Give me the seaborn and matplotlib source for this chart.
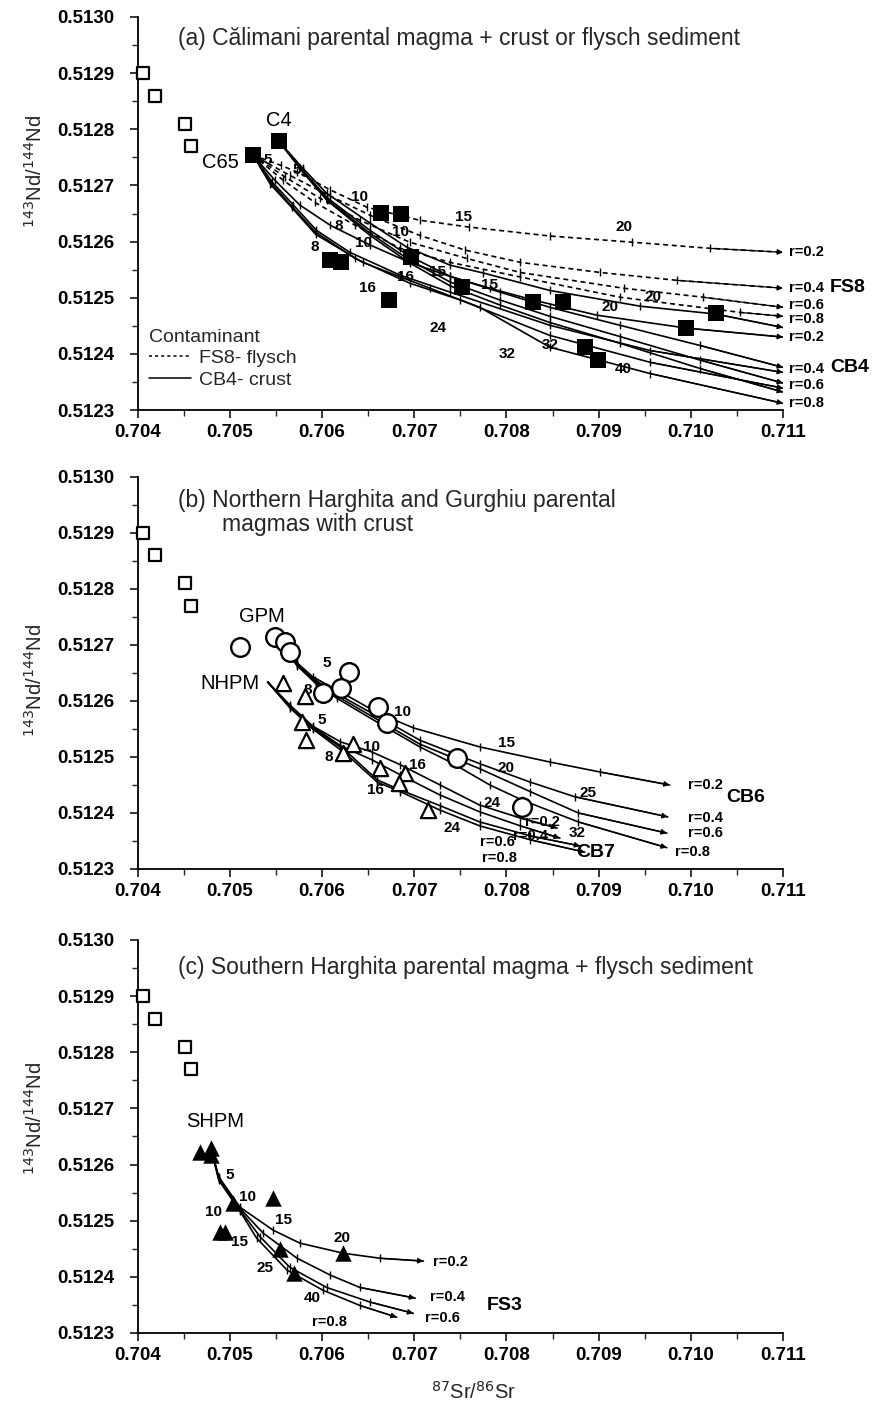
import matplotlib
matplotlib.use("Agg")
import matplotlib.pyplot as plt
from matplotlib.lines import Line2D
from matplotlib.ticker import MultipleLocator, FormatStrFormatter
import seaborn as sns
import pandas as pd

sns.set_theme(style="ticks")
plt.rcParams["font.family"] = ["Liberation Sans", "DejaVu Sans"]

# ---------------- data ----------------
mantle_sr = [0.70406, 0.70419, 0.70451, 0.70458]
mantle_nd = [0.51290, 0.51286, 0.51281, 0.51277]

# panel (a) Calimani samples (filled squares)
cal_sr = [0.70553, 0.70525, 0.70664, 0.70686, 0.70696, 0.70609, 0.70621, 0.70673,
          0.70752, 0.70829, 0.70861, 0.71027, 0.70995, 0.70899, 0.70885]
cal_nd = [0.512779, 0.512754, 0.512651, 0.512649, 0.512573, 0.512567, 0.512564, 0.512496,
          0.512519, 0.512492, 0.512492, 0.512472, 0.512447, 0.512390, 0.512412]

# panel (a) C4 + CB4 crust
c4_r02_sr = [0.70553, 0.70579, 0.70605, 0.70652, 0.70692, 0.70739, 0.70775, 0.70847, 0.70945, 0.71027, 0.71100]
c4_r02_nd = [0.512779, 0.512731, 0.512686, 0.512633, 0.512590, 0.512558, 0.512544, 0.512513, 0.512485, 0.512471, 0.512447]
c4_sr = [0.70553, 0.70579, 0.70605, 0.70652, 0.70695, 0.70739, 0.70793, 0.70847, 0.70923, 0.71010, 0.71100]
c4_r04_nd = [0.512779, 0.512727, 0.512679, 0.512620, 0.512574, 0.512538, 0.512510, 0.512483, 0.512451, 0.512415, 0.512376]
c4_r06_nd = [0.512779, 0.512726, 0.512676, 0.512615, 0.512567, 0.512528, 0.512496, 0.512467, 0.512431, 0.512389, 0.512348]
c4_r08_nd = [0.512779, 0.512724, 0.512674, 0.512611, 0.512562, 0.512521, 0.512487, 0.512456, 0.512419, 0.512374, 0.512332]

# panel (a) C65 + CB4 crust
c65_r02_sr = [0.70525, 0.70549, 0.70576, 0.70609, 0.70652, 0.70695, 0.70739, 0.70782, 0.70829, 0.70898, 0.70995, 0.71100]
c65_r02_nd = [0.512754, 0.512709, 0.512665, 0.512629, 0.512594, 0.512563, 0.512538, 0.512517, 0.512496, 0.512469, 0.512446, 0.512430]
c65_r04_sr = [0.70525, 0.70546, 0.70569, 0.70594, 0.70630, 0.70685, 0.70739, 0.70847, 0.70956, 0.71100]
c65_r04_nd = [0.512754, 0.512706, 0.512665, 0.512620, 0.512581, 0.512540, 0.512510, 0.512451, 0.512406, 0.512367]
c65_r06_sr = [0.70525, 0.70545, 0.70567, 0.70593, 0.70636, 0.70695, 0.70750, 0.70847, 0.70956, 0.71100]
c65_r06_nd = [0.512754, 0.512704, 0.512663, 0.512617, 0.512570, 0.512526, 0.512496, 0.512433, 0.512385, 0.512339]
c65_r08_sr = [0.70525, 0.70544, 0.70567, 0.70593, 0.70644, 0.70717, 0.70771, 0.70847, 0.70956, 0.71100]
c65_r08_nd = [0.512754, 0.512702, 0.512661, 0.512613, 0.512563, 0.512517, 0.512483, 0.512412, 0.512365, 0.512312]

# panel (a) C65 + FS8 flysch (dashed)
fs8_r02_sr = [0.70525, 0.70555, 0.70573, 0.70609, 0.70649, 0.70706, 0.70759, 0.70847, 0.70936, 0.71021, 0.71100]
fs8_r02_nd = [0.512754, 0.512736, 0.512724, 0.512692, 0.512661, 0.512638, 0.512626, 0.512610, 0.512599, 0.512588, 0.512581]
fs8_r04_sr = [0.70525, 0.70565, 0.70609, 0.70652, 0.70706, 0.70755, 0.70815, 0.70902, 0.70985, 0.71100]
fs8_r04_nd = [0.512754, 0.512718, 0.512681, 0.512647, 0.512611, 0.512585, 0.512563, 0.512545, 0.512531, 0.512517]
fs8_r06_sr = [0.70525, 0.70560, 0.70598, 0.70641, 0.70695, 0.70757, 0.70815, 0.70927, 0.71013, 0.71100]
fs8_r06_nd = [0.512754, 0.512715, 0.512677, 0.512638, 0.512599, 0.512570, 0.512545, 0.512517, 0.512501, 0.512483]
fs8_r08_sr = [0.70525, 0.70558, 0.70592, 0.70636, 0.70685, 0.70739, 0.70815, 0.70923, 0.71053, 0.71100]
fs8_r08_nd = [0.512754, 0.512709, 0.512670, 0.512629, 0.512588, 0.512563, 0.512537, 0.512501, 0.512474, 0.512467]

# panel (b) samples
gpm_sr = [0.70549, 0.70560, 0.70565, 0.70511, 0.70629, 0.70621, 0.70601, 0.70661, 0.70670, 0.70746, 0.70817]
gpm_nd = [0.512715, 0.512706, 0.512688, 0.512697, 0.512652, 0.512623, 0.512614, 0.512590, 0.512560, 0.512498, 0.512411]
nhpm_sr = [0.70558, 0.70582, 0.70578, 0.70583, 0.70634, 0.70623, 0.70663, 0.70690, 0.70683, 0.70715]
nhpm_nd = [0.512632, 0.512608, 0.512563, 0.512530, 0.512524, 0.512507, 0.512480, 0.512471, 0.512453, 0.512405]

# panel (b) GPM + CB6
gpm_r02_sr = [0.70549, 0.70573, 0.70590, 0.70616, 0.70660, 0.70699, 0.70771, 0.70847, 0.70902, 0.70977]
gpm_r02_nd = [0.512714, 0.512668, 0.512643, 0.512620, 0.512579, 0.512552, 0.512518, 0.512491, 0.512473, 0.512450]
gpm_r04_sr = [0.70549, 0.70573, 0.70592, 0.70616, 0.70663, 0.70706, 0.70771, 0.70826, 0.70874, 0.70975]
gpm_r04_nd = [0.512714, 0.512666, 0.512638, 0.512613, 0.512570, 0.512530, 0.512488, 0.512455, 0.512429, 0.512393]
gpm_r06_sr = [0.70549, 0.70573, 0.70593, 0.70616, 0.70663, 0.70706, 0.70771, 0.70826, 0.70878, 0.70974]
gpm_r06_nd = [0.512714, 0.512664, 0.512634, 0.512609, 0.512564, 0.512523, 0.512479, 0.512438, 0.512400, 0.512364]
gpm_r08_sr = [0.70549, 0.70573, 0.70594, 0.70616, 0.70663, 0.70706, 0.70739, 0.70782, 0.70817, 0.70878, 0.70974]
gpm_r08_nd = [0.512714, 0.512663, 0.512630, 0.512605, 0.512559, 0.512518, 0.512491, 0.512450, 0.512423, 0.512384, 0.512338]

# panel (b) NHPM + CB7
nh_r02_sr = [0.70541, 0.70565, 0.70590, 0.70620, 0.70654, 0.70685, 0.70728, 0.70771, 0.70815, 0.70855]
nh_r02_nd = [0.512634, 0.512593, 0.512555, 0.512527, 0.512509, 0.512486, 0.512450, 0.512414, 0.512391, 0.512373]
nh_r04_sr = [0.70541, 0.70565, 0.70590, 0.70620, 0.70654, 0.70685, 0.70728, 0.70771, 0.70815, 0.70858]
nh_r04_nd = [0.512634, 0.512591, 0.512554, 0.512520, 0.512495, 0.512468, 0.512432, 0.512402, 0.512377, 0.512355]
nh_r06_sr = [0.70541, 0.70565, 0.70590, 0.70627, 0.70660, 0.70685, 0.70728, 0.70771, 0.70826, 0.70880]
nh_r06_nd = [0.512634, 0.512589, 0.512552, 0.512509, 0.512459, 0.512441, 0.512413, 0.512384, 0.512359, 0.512341]
nh_r08_sr = [0.70541, 0.70565, 0.70590, 0.70627, 0.70660, 0.70685, 0.70728, 0.70771, 0.70826, 0.70885]
nh_r08_nd = [0.512634, 0.512588, 0.512550, 0.512504, 0.512455, 0.512438, 0.512405, 0.512377, 0.512352, 0.512330]

# panel (c) samples
shpm_sr = [0.70468, 0.70480, 0.70480, 0.70503, 0.70547, 0.70489, 0.70495, 0.70554, 0.70623, 0.70570]
shpm_nd = [0.512623, 0.512629, 0.512617, 0.512532, 0.512540, 0.512480, 0.512480, 0.512450, 0.512442, 0.512406]

# panel (c) SHPM + FS3
sh_r02_sr = [0.70480, 0.70488, 0.70511, 0.70547, 0.70576, 0.70623, 0.70663, 0.70710]
sh_r02_nd = [0.512626, 0.512578, 0.512524, 0.512483, 0.512460, 0.512442, 0.512433, 0.512428]
sh_r04_sr = [0.70480, 0.70488, 0.70511, 0.70536, 0.70573, 0.70609, 0.70641, 0.70701]
sh_r04_nd = [0.512626, 0.512576, 0.512522, 0.512478, 0.512433, 0.512403, 0.512381, 0.512362]
sh_r06_sr = [0.70480, 0.70488, 0.70511, 0.70533, 0.70565, 0.70605, 0.70652, 0.70699]
sh_r06_nd = [0.512626, 0.512574, 0.512519, 0.512471, 0.512417, 0.512381, 0.512355, 0.512335]
sh_r08_sr = [0.70480, 0.70488, 0.70511, 0.70529, 0.70562, 0.70601, 0.70641, 0.70681]
sh_r08_nd = [0.512626, 0.512572, 0.512517, 0.512469, 0.512412, 0.512376, 0.512349, 0.512328]

# annotation texts: (text, Sr, Nd)
labels_a = [("C4", 0.70553, 0.512816), ("C65", 0.70490, 0.512740),
            ("5", 0.70541, 0.512745), ("5", 0.70573, 0.512727), ("10", 0.70641, 0.512679),
            ("10", 0.70685, 0.512617), ("8", 0.70618, 0.512627), ("8", 0.70592, 0.512590),
            ("10", 0.70645, 0.512597), ("16", 0.70690, 0.512537), ("16", 0.70649, 0.512517),
            ("15", 0.70725, 0.512545), ("15", 0.70753, 0.512644), ("24", 0.70726, 0.512447),
            ("15", 0.70782, 0.512522), ("20", 0.70927, 0.512626), ("20", 0.70959, 0.512501),
            ("20", 0.70912, 0.512483), ("32", 0.70801, 0.512399), ("32", 0.70847, 0.512415),
            ("40", 0.70927, 0.512374)]
rlabels_a = [("r=0.2", 0.71107, 0.512581), ("r=0.4", 0.71107, 0.512517), ("r=0.6", 0.71107, 0.512487),
             ("r=0.8", 0.71107, 0.512463), ("r=0.2", 0.71107, 0.512431), ("r=0.4", 0.71107, 0.512373),
             ("r=0.6", 0.71107, 0.512344), ("r=0.8", 0.71107, 0.512312)]
endm_a = [("FS8", 0.71151, 0.512519), ("CB4", 0.71151, 0.512376)]

labels_b = [("GPM", 0.70535, 0.512750), ("NHPM", 0.70500, 0.512632),
            ("5", 0.70605, 0.512668), ("10", 0.70687, 0.512580), ("15", 0.70800, 0.512525),
            ("20", 0.70799, 0.512480), ("25", 0.70889, 0.512436), ("24", 0.70784, 0.512418),
            ("32", 0.70877, 0.512364), ("8", 0.70584, 0.512620), ("5", 0.70600, 0.512566),
            ("10", 0.70654, 0.512518), ("8", 0.70607, 0.512500), ("16", 0.70703, 0.512486),
            ("16", 0.70658, 0.512441), ("24", 0.70741, 0.512373)]
rlabels_b = [("r=0.2", 0.70997, 0.512450), ("r=0.4", 0.70997, 0.512391), ("r=0.6", 0.70997, 0.512364),
             ("r=0.8", 0.70983, 0.512330), ("r=0.2", 0.70820, 0.512384), ("r=0.4", 0.70807, 0.512359),
             ("r=0.6", 0.70771, 0.512348), ("r=0.8", 0.70773, 0.512320)]
endm_b = [("CB6", 0.71038, 0.512427), ("CB7", 0.70876, 0.512330)]

labels_c = [("SHPM", 0.70484, 0.512676), ("5", 0.70500, 0.512581), ("10", 0.70519, 0.512542),
            ("10", 0.70482, 0.512515), ("15", 0.70558, 0.512501), ("15", 0.70511, 0.512462),
            ("20", 0.70622, 0.512469), ("25", 0.70538, 0.512415), ("40", 0.70589, 0.512362)]
rlabels_c = [("r=0.8", 0.70589, 0.512319), ("r=0.2", 0.70720, 0.512426), ("r=0.4", 0.70717, 0.512364),
             ("r=0.6", 0.70712, 0.512326)]
endm_c = [("FS3", 0.70779, 0.512349)]

# ---------------- drawing ----------------
fig = plt.figure(figsize=(8.8, 14.15), dpi=100)
L, W = 0.1564, 0.7334
ax_a = fig.add_axes([L, 0.7102, W, 0.2778])
ax_b = fig.add_axes([L, 0.3859, W, 0.2770])
ax_c = fig.add_axes([L, 0.0580, W, 0.2777])


def curve(ax, xs, ys, dashed=False, lw=1.2):
    df = pd.DataFrame({"x": xs, "y": ys})
    sns.lineplot(data=df, x="x", y="y", sort=False, estimator=None, ax=ax, color="black",
                 lw=lw, linestyle=(0, (3, 2.2)) if dashed else "-", legend=False)
    ax.plot(xs[1:-1], ys[1:-1], linestyle="none", marker="|", markersize=6,
            markeredgewidth=1.0, color="black")
    ax.annotate("", xy=(xs[-1], ys[-1]), xytext=(xs[-2], ys[-2]),
                arrowprops=dict(arrowstyle="-|>", color="black", lw=0.9,
                                mutation_scale=8, shrinkA=0, shrinkB=0))


def style(ax):
    ax.set_xlim(0.704, 0.711)
    ax.set_ylim(0.5123, 0.5130)
    ax.xaxis.set_major_locator(MultipleLocator(0.001))
    ax.xaxis.set_minor_locator(MultipleLocator(0.0005))
    ax.yaxis.set_major_locator(MultipleLocator(0.0001))
    ax.yaxis.set_minor_locator(MultipleLocator(0.00005))
    ax.xaxis.set_major_formatter(FormatStrFormatter("%.3f"))
    ax.yaxis.set_major_formatter(FormatStrFormatter("%.4f"))
    ax.tick_params(which="major", direction="out", length=6, width=1.1, labelsize=13.5)
    ax.tick_params(axis="y", which="major", pad=11)
    ax.tick_params(axis="x", which="major", pad=4)
    ax.tick_params(which="minor", direction="out", length=4, width=1.0)
    for lab in ax.get_xticklabels() + ax.get_yticklabels():
        lab.set_fontweight("bold")
    sns.despine(ax=ax)
    for s in ("left", "bottom"):
        ax.spines[s].set_linewidth(1.3)
        ax.spines[s].set_color("black")
    ax.set_xlabel("")
    ax.set_ylabel(r"$^{143}$Nd/$^{144}$Nd", fontsize=14.5)
    ax.tick_params(colors="black")


def put_texts(ax, items, size=11, weight="bold", ha="center"):
    for t, x, y in items:
        ax.text(x, y, t, fontsize=size, fontweight=weight, ha=ha, va="center",
                clip_on=False, color="black")


for ax in (ax_a, ax_b, ax_c):
    sns.scatterplot(x=mantle_sr, y=mantle_nd, ax=ax, marker="s", s=80, facecolor="white",
                    edgecolor="black", linewidth=1.6, clip_on=False, zorder=5)

# panel (a)
for sr, nd in [(fs8_r02_sr, fs8_r02_nd), (fs8_r04_sr, fs8_r04_nd),
               (fs8_r06_sr, fs8_r06_nd), (fs8_r08_sr, fs8_r08_nd)]:
    curve(ax_a, sr, nd, dashed=True)
for sr, nd in [(c4_r02_sr, c4_r02_nd), (c4_sr, c4_r04_nd), (c4_sr, c4_r06_nd), (c4_sr, c4_r08_nd),
               (c65_r02_sr, c65_r02_nd), (c65_r04_sr, c65_r04_nd),
               (c65_r06_sr, c65_r06_nd), (c65_r08_sr, c65_r08_nd)]:
    curve(ax_a, sr, nd)
sns.scatterplot(x=cal_sr, y=cal_nd, ax=ax_a, marker="s", s=135, color="black",
                edgecolor="black", linewidth=0, zorder=6, clip_on=False)
put_texts(ax_a, labels_a[:2], size=14.5, weight="normal")
put_texts(ax_a, labels_a[2:], size=11)
put_texts(ax_a, rlabels_a, size=10.5, ha="left")
put_texts(ax_a, endm_a, size=14, ha="left")
ax_a.text(0.062, 0.945, "(a) C\u0103limani parental magma + crust or flysch sediment",
          transform=ax_a.transAxes, fontsize=16.5, va="center", ha="left")
handles = [Line2D([0], [0], color="black", lw=1.1, linestyle=(0, (2, 2))),
           Line2D([0], [0], color="black", lw=1.1)]
leg = ax_a.legend(handles, ["FS8- flysch", "CB4- crust"], title="Contaminant", loc="lower left",
                  bbox_to_anchor=(0.005, 0.035), frameon=False, fontsize=14, title_fontsize=14,
                  handlelength=2.2, alignment="left", labelspacing=0.2, borderaxespad=0.2,
                  handletextpad=0.4, borderpad=0.2)

# panel (b)
for sr, nd in [(gpm_r02_sr, gpm_r02_nd), (gpm_r04_sr, gpm_r04_nd),
               (gpm_r06_sr, gpm_r06_nd), (gpm_r08_sr, gpm_r08_nd),
               (nh_r02_sr, nh_r02_nd), (nh_r04_sr, nh_r04_nd),
               (nh_r06_sr, nh_r06_nd), (nh_r08_sr, nh_r08_nd)]:
    curve(ax_b, sr, nd)
sns.scatterplot(x=gpm_sr, y=gpm_nd, ax=ax_b, marker="o", s=180, facecolor="white",
                edgecolor="black", linewidth=1.7, zorder=6)
sns.scatterplot(x=nhpm_sr, y=nhpm_nd, ax=ax_b, marker="^", s=120, facecolor="white",
                edgecolor="black", linewidth=1.6, zorder=6)
put_texts(ax_b, labels_b[:2], size=14.5, weight="normal")
put_texts(ax_b, labels_b[2:], size=11)
put_texts(ax_b, rlabels_b, size=10.5, ha="left")
put_texts(ax_b, endm_b, size=14, ha="left")
ax_b.text(0.062, 0.940, "(b) Northern Harghita and Gurghiu parental",
          transform=ax_b.transAxes, fontsize=16.5, va="center", ha="left")
ax_b.text(0.131, 0.879, "magmas with crust",
          transform=ax_b.transAxes, fontsize=16.5, va="center", ha="left")

# panel (c)
for sr, nd in [(sh_r02_sr, sh_r02_nd), (sh_r04_sr, sh_r04_nd),
               (sh_r06_sr, sh_r06_nd), (sh_r08_sr, sh_r08_nd)]:
    curve(ax_c, sr, nd)
sns.scatterplot(x=shpm_sr, y=shpm_nd, ax=ax_c, marker="^", s=140, color="black",
                edgecolor="black", linewidth=0, zorder=6)
put_texts(ax_c, labels_c[:1], size=14.5, weight="normal")
put_texts(ax_c, labels_c[1:], size=11)
put_texts(ax_c, rlabels_c, size=10.5, ha="left")
put_texts(ax_c, endm_c, size=14, ha="left")
ax_c.text(0.062, 0.929, "(c) Southern Harghita parental magma + flysch sediment",
          transform=ax_c.transAxes, fontsize=16.5, va="center", ha="left")

for ax in (ax_a, ax_b, ax_c):
    style(ax)
ax_a.yaxis.set_label_coords(-0.142, 0.606)
ax_b.yaxis.set_label_coords(-0.142, 0.482)
ax_c.yaxis.set_label_coords(-0.142, 0.547)
ax_c.set_xlabel(r"$^{87}$Sr/$^{86}$Sr", fontsize=14.5)
ax_c.xaxis.set_label_coords(0.52, -0.122)

fig.savefig("out.png", dpi=100)
